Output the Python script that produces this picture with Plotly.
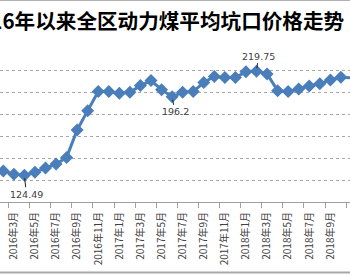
import plotly.graph_objects as go

# ---- data ----
months = [
    "2016年1月", "2016年2月", "2016年3月", "2016年4月", "2016年5月", "2016年6月",
    "2016年7月", "2016年8月", "2016年9月", "2016年10月", "2016年11月", "2016年12月",
    "2017年1月", "2017年2月", "2017年3月", "2017年4月", "2017年5月", "2017年6月",
    "2017年7月", "2017年8月", "2017年9月", "2017年10月", "2017年11月", "2017年12月",
    "2018年1月", "2018年2月", "2018年3月", "2018年4月", "2018年5月", "2018年6月",
    "2018年7月", "2018年8月", "2018年9月", "2018年10月", "2018年11月",
]
prices = [
    128.5, 128.3, 125.5, 124.49, 127.3, 131.0,
    134.7, 140.8, 165.9, 183.6, 201.0, 201.0,
    199.5, 200.5, 206.5, 211.1, 202.8, 196.2,
    200.5, 201.0, 209.3, 214.8, 213.9, 213.9,
    219.1, 219.75, 217.2, 201.9, 201.0, 203.5,
    206.2, 208.1, 211.7, 214.2, 213.5,
]
title_text = "2016年以来全区动力煤平均坑口价格走势"
label_points = ["2016年4月", "2017年6月", "2018年2月"]
y_grid = [120, 140, 160, 180, 200, 220, 240]

# ---- layout geometry ----
W, H = 350, 275
TOP, BOT = 49, 202          # plot area top / bottom in px
PH = BOT - TOP

def py(p):                   # px from top -> paper y
    return (BOT - p) / PH

def px(p):                   # px from left -> paper x
    return p / W

xs = list(range(len(months)))
label_idx = [i for i, m in enumerate(months) if m.endswith(("年3月", "年5月", "年7月", "年9月", "年11月", "年1月"))]
label_idx = [i for i in xs if (i % 2 == 0) and i >= 2]
tick_bounds = [i - 0.5 for i in label_idx]

blue = "#4A7EBB"
fig = go.Figure()
fig.add_trace(go.Scatter(
    x=xs, y=prices, mode="lines+markers",
    line=dict(color=blue, width=3),
    marker=dict(symbol="diamond", size=10, color=blue),
    cliponaxis=False, hoverinfo="skip",
))

offsets = {"2016年4月": (2, 19), "2017年6月": (3, 15), "2018年2月": (2, -15)}
for m in label_points:
    i = months.index(m)
    v = prices[i]
    ax, ay = offsets[m]
    fig.add_annotation(
        x=i, y=v, xref="x", yref="y", text=f"{v:g}",
        showarrow=True, arrowhead=0, arrowwidth=1, arrowcolor="#202020",
        ax=ax, ay=ay, standoff=3,
        font=dict(family="DejaVu Sans", size=9.5, color="#404040"),
        bgcolor="rgba(0,0,0,0)",
    )

fig.add_annotation(
    x=px(346.7), y=py(20), xref="paper", yref="paper",
    xanchor="right", yanchor="middle", showarrow=False,
    text=f"<b>{title_text}</b>",
    font=dict(family="Noto Sans CJK SC", size=20.6, color="#000000"),
)

# outer frame lines (top and bottom)
fig.add_shape(type="line", xref="paper", yref="paper", x0=0, x1=1,
              y0=py(0.5), y1=py(0.5), line=dict(color="#b0b0b0", width=1))
fig.add_shape(type="line", xref="paper", yref="paper", x0=0, x1=1,
              y0=py(272.5), y1=py(272.5), line=dict(color="#a8a8a8", width=2))

x0 = 1 - 3.3 / 10.55
fig.update_layout(
    width=W, height=H,
    margin=dict(l=0, r=0, t=TOP, b=H - BOT, pad=0),
    paper_bgcolor="white", plot_bgcolor="white",
    showlegend=False,
    xaxis=dict(
        range=[x0, x0 + W / 10.55],
        tickmode="array", tickvals=label_idx,
        ticktext=[months[i] for i in label_idx],
        tickangle=-90, ticks="", ticklabelstandoff=5,
        tickfont=dict(family="Noto Sans CJK SC", size=10, color="#404040"),
        showgrid=False, zeroline=False,
        showline=True, linecolor="#a0a0a0", linewidth=1,
        minor=dict(tickmode="array", tickvals=tick_bounds, ticks="outside",
                   ticklen=5, tickcolor="#a0a0a0", tickwidth=1, showgrid=False),
    ),
    yaxis=dict(
        range=[100, 240], tickmode="array", tickvals=y_grid,
        showticklabels=False, ticks="",
        showgrid=True, gridcolor="#a8a8a8", griddash="dot", gridwidth=1,
        zeroline=False, showline=False,
    ),
)

fig.write_html("out.html")
